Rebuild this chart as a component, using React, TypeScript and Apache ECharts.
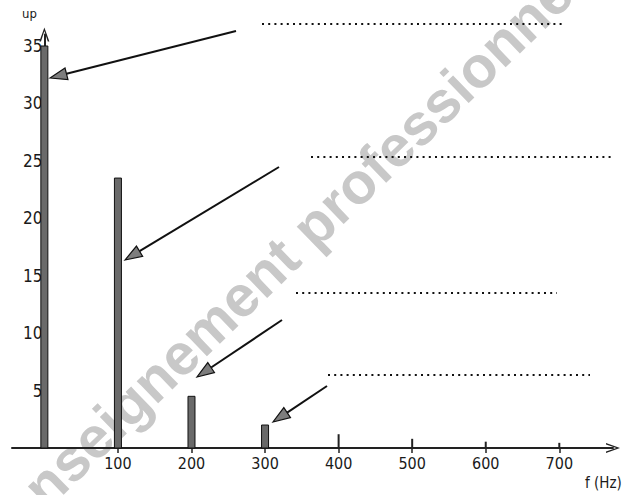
import React, { useEffect, useRef } from "react";
import * as echarts from "echarts";

// Spectrum data (frequency in Hz, amplitude)
const mainFreqs = [0, 100, 200, 300];
const mainAmps = [35, 23.5, 4.5, 2];
const minorFreqs = [400, 500, 600, 700];
const minorAmps = [1.2, 0.8, 0.55, 0.45];
const xTickValues = [100, 200, 300, 400, 500, 600, 700];
const yTickValues = [5, 10, 15, 20, 25, 30, 35];
const yAxisName = "up";
const xAxisName = "f (Hz)";
const watermarkText = "enseignement professionnel";

// Annotation layout (pixels)
const arrowFrom = [[236, 31], [279, 167], [282, 320], [327, 386]];
const arrowTo = [[50, 78], [125, 260], [197, 377], [273, 422]];
const dotLineY = [24, 157, 293, 375];
const dotLineX1 = [262, 311, 296, 328];
const dotLineX2 = [564, 613, 557, 590];

const FONT = "'Liberation Sans Narrow', 'DejaVu Sans Condensed', 'Arial Narrow', sans-serif";
const ARROW = "path://M5,0 L10,14 L8.4,14 L5,3.6 L1.6,14 L0,14 Z";

const X_MIN = -44;
const X_MAX = 773;
const GRID_LEFT = 12;
const GRID_RIGHT = 19;
const CHART_W = 632;

function buildArrow(from: number[], to: number[]) {
  const dx = from[0] - to[0];
  const dy = from[1] - to[1];
  const len = Math.sqrt(dx * dx + dy * dy);
  const ux = dx / len, uy = dy / len;
  const nx = -uy, ny = ux;
  const L = 17, W = 12;
  const bx = to[0] + ux * L, by = to[1] + uy * L;
  return [
    {
      type: "line",
      shape: { x1: from[0], y1: from[1], x2: bx, y2: by },
      style: { stroke: "#111", lineWidth: 2 },
      z: 10,
    },
    {
      type: "polygon",
      shape: {
        points: [
          [to[0], to[1]],
          [bx + nx * W / 2, by + ny * W / 2],
          [bx - nx * W / 2, by - ny * W / 2],
        ],
      },
      style: { fill: "#7d7d7d", stroke: "#111", lineWidth: 1.2 },
      z: 10,
    },
  ];
}

function barRenderer(width: number, fill: string, stroke: string | null) {
  return (params: any, api: any) => {
    const top = api.coord([api.value(0), api.value(1)]);
    const base = api.coord([api.value(0), 0]);
    return {
      type: "rect",
      shape: { x: top[0] - width / 2, y: top[1], width, height: base[1] - top[1] },
      style: stroke ? { fill, stroke, lineWidth: 1 } : { fill },
    };
  };
}

export default function App() {
  const ref = useRef<HTMLDivElement>(null);

  useEffect(() => {
    if (!ref.current) return;
    const chart = echarts.init(ref.current, undefined, { renderer: "svg" });

    const plotW = CHART_W - GRID_LEFT - GRID_RIGHT;
    const zeroOffset = ((0 - X_MIN) / (X_MAX - X_MIN)) * plotW;

    const graphics: any[] = [
      {
        type: "text",
        x: 292,
        y: 246,
        rotation: (44 * Math.PI) / 180,
        z: -10,
        silent: true,
        style: {
          text: watermarkText,
          fill: "#c8c8c8",
          font: "bold 58px 'Liberation Sans', Arial, sans-serif",
          align: "center",
          verticalAlign: "middle",
        },
      },
      {
        type: "text",
        x: 22,
        y: 7,
        z: 10,
        style: { text: yAxisName, fill: "#1a1a1a", font: `13px ${FONT}` },
      },
      {
        type: "text",
        x: 585,
        y: 475,
        z: 10,
        style: { text: xAxisName, fill: "#1a1a1a", font: `15px ${FONT}` },
      },
    ];
    dotLineY.forEach((y, i) => {
      graphics.push({
        type: "line",
        shape: { x1: dotLineX1[i], y1: y, x2: dotLineX2[i], y2: y },
        style: { stroke: "#111", lineWidth: 2, lineDash: [2, 4.2] },
        z: 10,
      });
    });
    arrowFrom.forEach((f, i) => {
      graphics.push(...buildArrow(f, arrowTo[i]));
    });

    const option: any = {
      animation: false,
      backgroundColor: "#ffffff",
      grid: {
        left: GRID_LEFT,
        right: GRID_RIGHT,
        top: 34.5,
        bottom: 47,
        containLabel: false,
        outerBoundsMode: "none",
      },
      xAxis: {
        type: "value",
        min: X_MIN,
        max: X_MAX,
        axisLine: {
          show: true,
          onZero: true,
          symbol: ["none", ARROW],
          symbolSize: [10, 14],
          lineStyle: { color: "#222", width: 2 },
        },
        axisTick: {
          show: true,
          customValues: xTickValues,
          length: 5,
          lineStyle: { color: "#222", width: 1.5 },
        },
        axisLabel: {
          customValues: xTickValues,
          margin: 7,
          color: "#1a1a1a",
          fontFamily: FONT,
          fontSize: 16,
        },
        splitLine: { show: false },
      },
      yAxis: {
        type: "value",
        min: 0,
        max: 36,
        offset: -zeroOffset,
        axisLine: {
          show: true,
          onZero: false,
          symbol: ["none", ARROW],
          symbolSize: [10, 14],
          lineStyle: { color: "#222", width: 2 },
        },
        axisTick: { show: false },
        axisLabel: {
          customValues: yTickValues,
          margin: 2,
          color: "#1a1a1a",
          fontFamily: FONT,
          fontSize: 17,
        },
        splitLine: { show: false },
      },
      graphic: graphics,
      series: [
        {
          type: "custom",
          name: "harmoniques",
          renderItem: barRenderer(7, "#6a6a6a", "#111"),
          data: mainFreqs.map((f, i) => [f, mainAmps[i]]),
          encode: { x: 0, y: 1 },
          z: 5,
        },
        {
          type: "custom",
          name: "rang supérieur",
          renderItem: barRenderer(2, "#222", null),
          data: minorFreqs.map((f, i) => [f, minorAmps[i]]),
          encode: { x: 0, y: 1 },
          z: 5,
        },
      ],
    };
    chart.setOption(option);
    return () => chart.dispose();
  }, []);

  return (
    <div
      ref={ref}
      style={{ position: "fixed", left: 0, top: 0, width: 632, height: 495, background: "#fff" }}
    />
  );
}
